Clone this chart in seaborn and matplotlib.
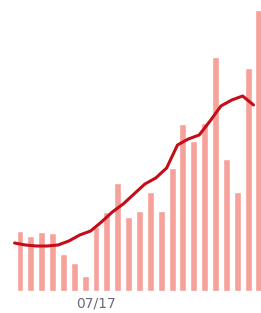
import matplotlib
matplotlib.use('Agg')
import matplotlib.pyplot as plt
import seaborn as sns
import pandas as pd
import numpy as np

# daily counts (bars) and rolling average (line)
dates = ['07/10', '07/11', '07/12', '07/13', '07/14', '07/15', '07/16', '07/17',
         '07/18', '07/19', '07/20', '07/21', '07/22', '07/23', '07/24', '07/25',
         '07/26', '07/27', '07/28', '07/29', '07/30', '07/31', '08/01']
daily = [60, 55, 59, 58, 37, 28, 15, 64, 79, 108, 74, 80, 99, 80, 123, 167,
         150, 168, 234, 132, 99, 223, 281]
rolling = [48, 46, 45, 45, 46, 50, 56, 60, 69, 79, 87, 97, 107, 113, 123, 146,
           152, 156, 170, 185, 191, 195, 186]
tick_label = '07/17'

sns.set_style('white')

df = pd.DataFrame({'date': dates, 'daily': daily, 'rolling': rolling})

fig = plt.figure(figsize=(2.61, 3.13), dpi=100)
ax = fig.add_axes([0, 22 / 313, 1, 1 - 22 / 313])

sns.barplot(data=df, x='date', y='daily', color='#f7a19b', saturation=1,
            width=0.64, ax=ax)
sns.lineplot(x=np.arange(len(dates)) - 0.5, y=df['rolling'], color='#c40d18',
             linewidth=2.2, ax=ax)

ax.set_xlim(-1.84, 22.19)
ax.set_ylim(0, 291)
ax.set_xticks([dates.index(tick_label)])
ax.set_xticklabels([tick_label], fontsize=10, color='#6a6a7a')
ax.tick_params(axis='x', length=0, pad=4)
ax.set_yticks([])
ax.set_xlabel('')
ax.set_ylabel('')
sns.despine(ax=ax, left=True, bottom=True)

fig.savefig('out.png', dpi=100)
